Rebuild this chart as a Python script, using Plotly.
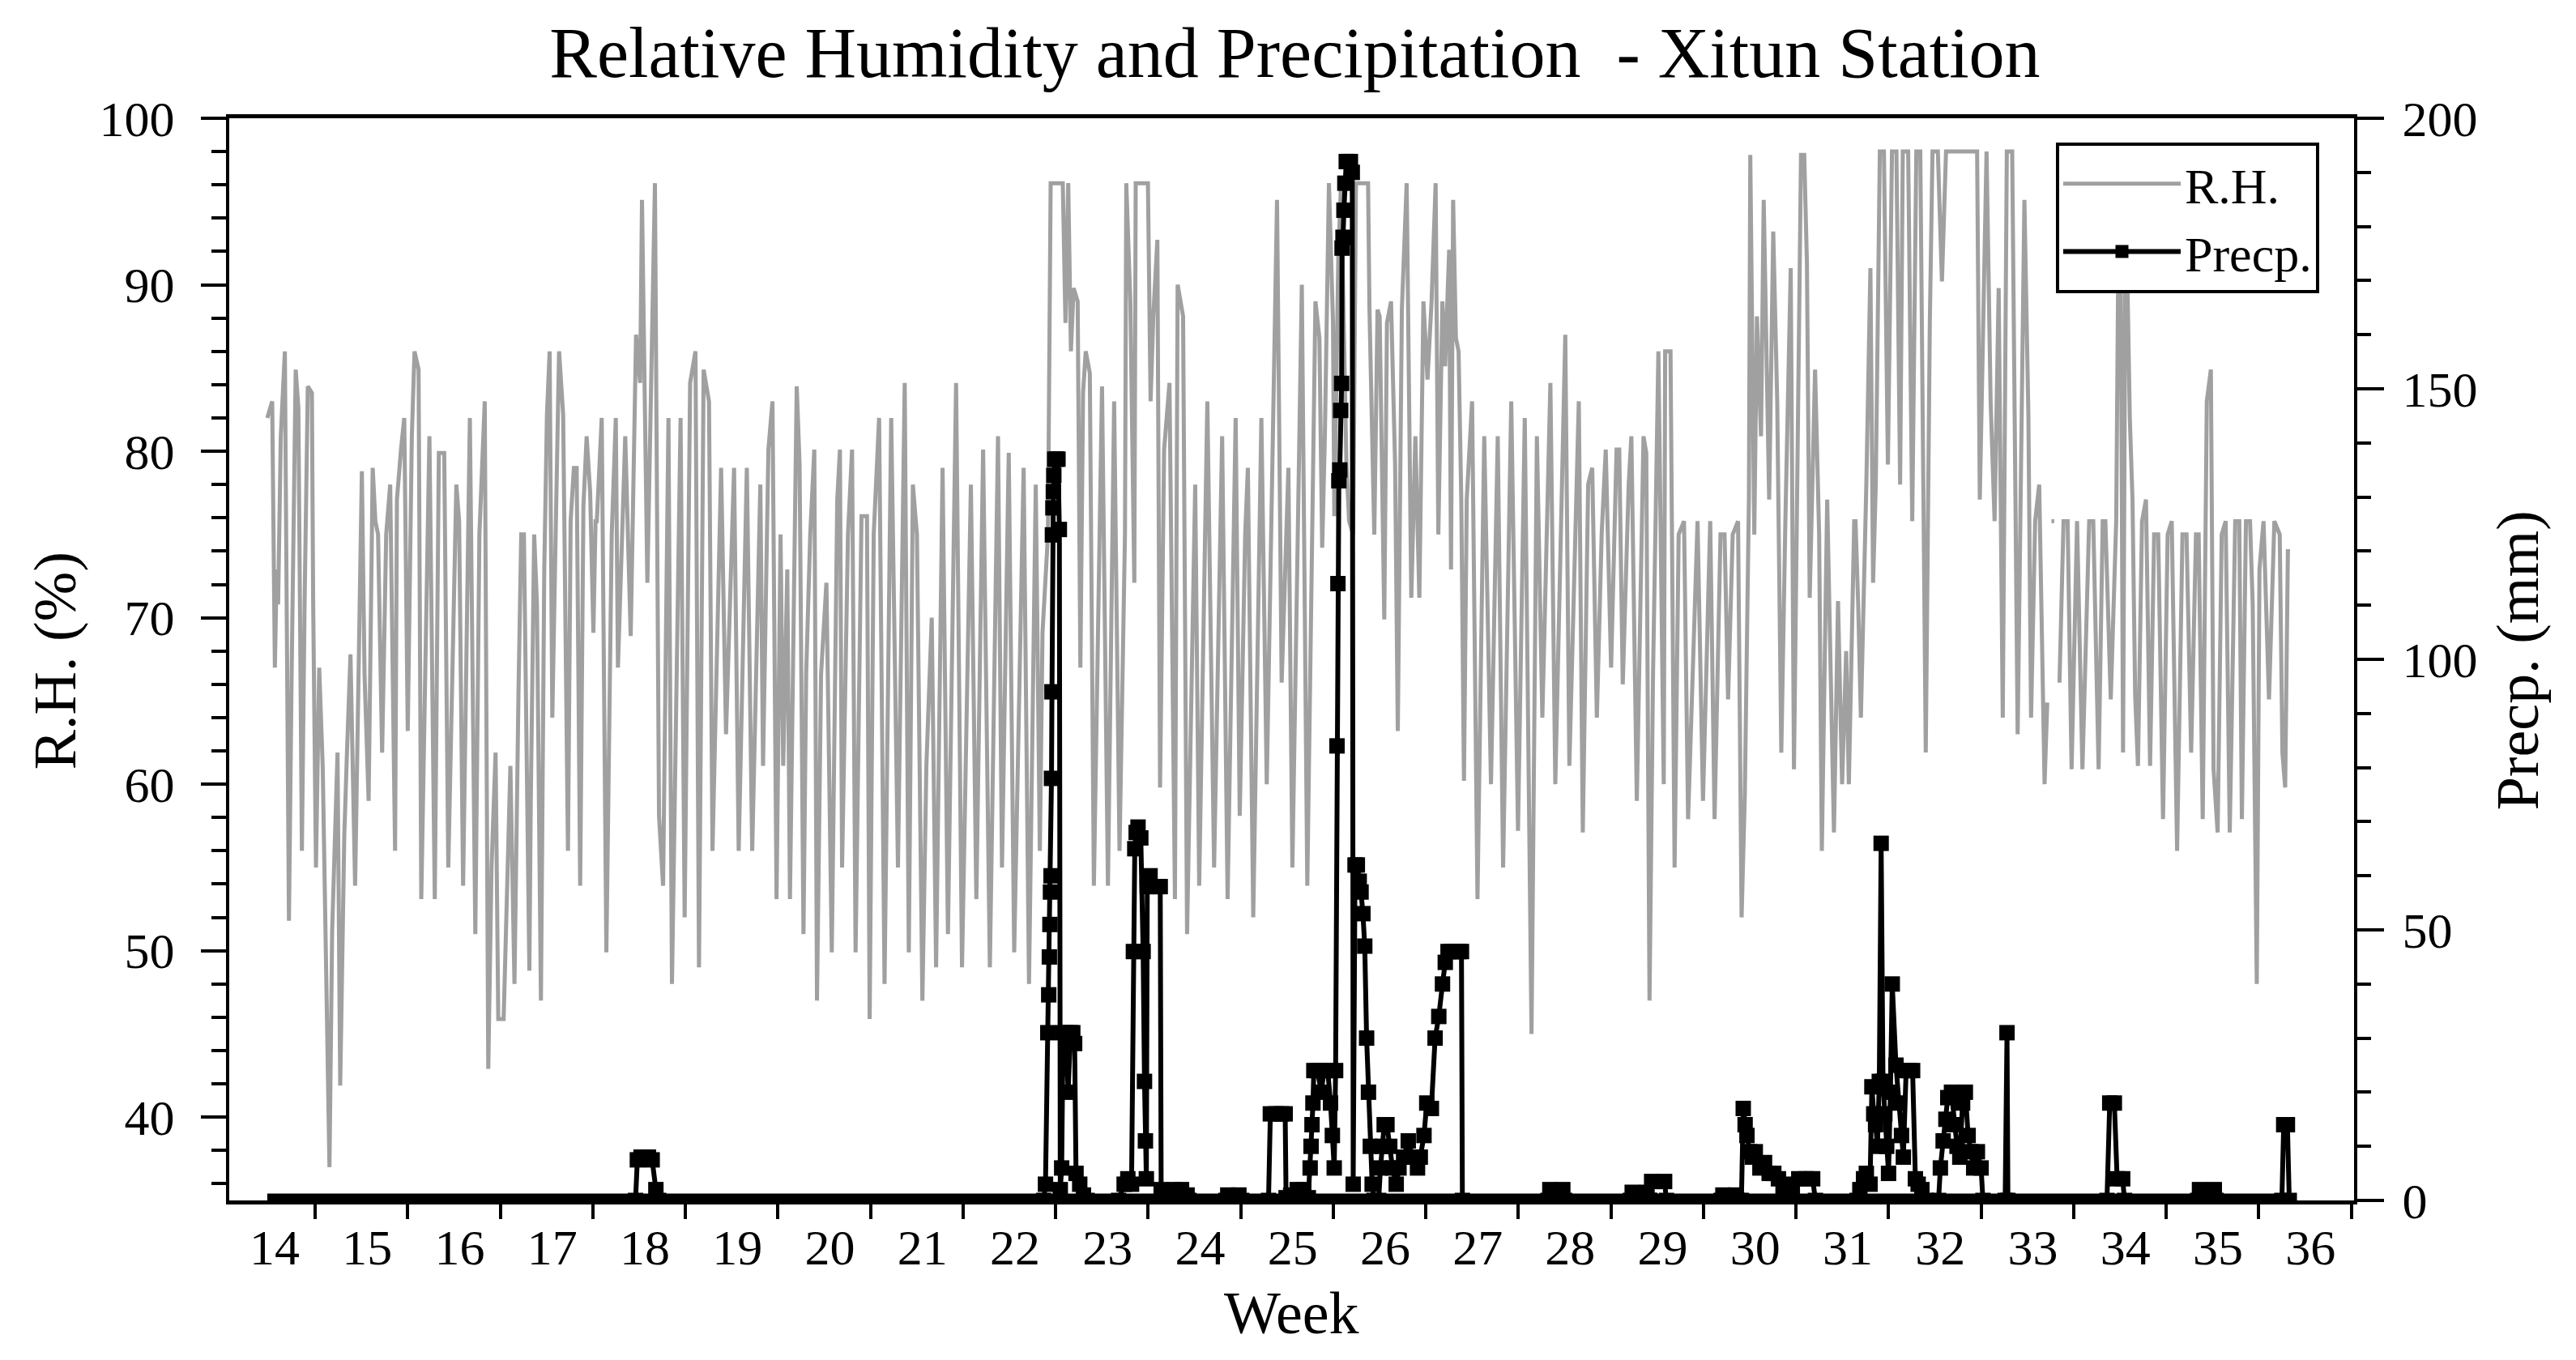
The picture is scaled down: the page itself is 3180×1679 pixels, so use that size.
import plotly.graph_objects as go

# ---------------- data (x in week units; week label n is centred at x = n) ----------------
rh_week = [
 13.921,13.974,14.003,14.023,14.038,14.067,14.111,14.155,14.184,14.228,14.257,14.295,14.324,14.359,14.403,14.417,
 14.447,14.482,14.520,14.549,14.593,14.622,14.680,14.709,14.753,14.782,14.820,14.870,14.914,14.943,14.972,15.016,
 15.060,15.089,15.118,15.162,15.206,15.249,15.302,15.322,15.366,15.401,15.439,15.483,15.512,15.556,15.585,15.673,
 15.731,15.775,15.833,15.877,15.964,15.994,16.037,16.110,16.169,16.213,16.271,16.309,16.344,16.388,16.417,16.475,
 16.548,16.592,16.636,16.665,16.694,16.753,16.768,16.805,16.835,16.878,16.914,16.943,16.972,17.001,17.030,17.074,
 17.118,17.170,17.199,17.234,17.264,17.302,17.337,17.372,17.410,17.445,17.468,17.482,17.535,17.585,17.643,17.687,
 17.710,17.789,17.848,17.906,17.950,17.970,18.028,18.081,18.110,18.154,18.198,18.256,18.294,18.387,18.431,18.490,
 18.548,18.586,18.636,18.694,18.732,18.825,18.878,18.965,19.015,19.103,19.161,19.249,19.278,19.336,19.380,19.424,
 19.467,19.496,19.540,19.569,19.642,19.673,19.715,19.744,19.788,19.832,19.861,19.905,19.963,20.021,20.080,20.109,
 20.132,20.196,20.240,20.278,20.342,20.401,20.430,20.474,20.532,20.591,20.663,20.736,20.809,20.853,20.897,20.941,
 21.000,21.043,21.101,21.148,21.218,21.276,21.364,21.428,21.524,21.583,21.656,21.729,21.817,21.860,21.933,21.992,
 22.094,22.152,22.225,22.269,22.298,22.357,22.386,22.430,22.517,22.546,22.576,22.605,22.634,22.678,22.707,22.736,
 22.765,22.809,22.853,22.941,23.005,23.072,23.130,23.189,23.203,23.247,23.290,23.305,23.364,23.437,23.466,23.495,
 23.539,23.568,23.612,23.670,23.729,23.758,23.817,23.860,23.948,23.991,24.079,24.152,24.239,24.298,24.385,24.429,
 24.488,24.517,24.575,24.663,24.721,24.780,24.832,24.882,24.955,24.998,25.100,25.159,25.203,25.247,25.290,25.320,
 25.349,25.393,25.437,25.451,25.495,25.524,25.582,25.611,25.655,25.685,25.728,25.816,25.831,25.883,25.918,25.941,
 25.991,26.020,26.064,26.108,26.137,26.181,26.233,26.283,26.327,26.370,26.414,26.458,26.502,26.546,26.575,26.619,
 26.648,26.692,26.712,26.735,26.765,26.794,26.823,26.852,26.882,26.940,26.998,27.071,27.144,27.217,27.275,27.363,
 27.436,27.509,27.582,27.640,27.699,27.786,27.839,27.947,27.991,28.093,28.136,28.194,28.238,28.288,28.340,28.384,
 28.442,28.501,28.530,28.568,28.632,28.661,28.720,28.792,28.822,28.857,28.895,28.953,29.011,29.026,29.084,29.128,
 29.172,29.230,29.274,29.376,29.435,29.513,29.560,29.624,29.668,29.706,29.756,29.814,29.852,29.887,29.931,29.946,
 29.989,30.018,30.062,30.091,30.150,30.194,30.237,30.281,30.325,30.383,30.418,30.456,30.494,30.529,30.558,30.588,
 30.646,30.690,30.719,30.777,30.850,30.894,30.938,30.982,31.011,31.069,31.083,31.112,31.141,31.200,31.244,31.273,
 31.302,31.346,31.390,31.433,31.477,31.525,31.565,31.594,31.652,31.696,31.740,31.783,31.842,31.886,31.915,31.973,
 32.017,32.061,32.105,32.397,32.426,32.499,32.543,32.586,32.630,32.674,32.718,32.776,32.835,32.908,32.951,32.980,
 33.024,33.068,33.126,33.155,None,33.200,33.230,None,33.287,33.331,33.375,33.418,33.477,33.535,33.608,33.652,
 33.710,33.754,33.783,33.841,33.900,33.929,33.945,33.974,34.003,34.047,34.076,34.105,34.135,34.179,34.222,34.266,
 34.310,34.354,34.406,34.456,34.500,34.558,34.616,34.660,34.710,34.762,34.791,34.835,34.879,34.923,34.952,34.996,
 35.040,35.083,35.127,35.186,35.230,35.258,35.302,35.346,35.375,35.419,35.448,35.492,35.551,35.609,35.667,35.696,
 35.726,35.755,35.778,
]
rh_value = [
 82.0,83.0,67.0,72.9,70.8,80.9,86.0,51.8,66.6,84.9,82.6,56.0,70.8,83.9,83.5,70.8,
 55.0,67.0,61.1,51.2,37.0,51.2,61.9,41.9,56.9,61.9,67.8,53.9,68.9,78.8,66.6,59.0,
 79.0,75.8,75.0,61.9,75.0,78.0,56.0,77.1,80.1,82.0,63.2,80.9,86.0,84.9,53.1,80.9,
 53.1,79.9,79.9,55.0,78.0,75.8,53.9,82.0,51.0,75.0,83.0,42.9,55.0,61.9,45.9,45.9,
 61.1,48.0,65.7,75.0,75.0,48.8,58.9,75.0,70.8,47.0,72.9,82.2,86.0,64.0,72.9,86.0,
 82.2,56.0,75.8,79.0,79.0,53.9,76.7,80.9,77.5,69.1,75.8,75.8,82.0,49.9,75.0,82.0,
 67.0,80.9,68.9,87.0,84.1,95.1,72.1,88.1,96.1,58.1,53.9,82.0,48.0,82.0,52.0,84.1,
 86.0,49.0,84.9,83.0,56.0,79.0,63.0,79.0,56.0,79.0,56.0,78.0,61.1,80.1,83.0,53.1,
 75.0,61.1,72.9,53.1,83.9,79.2,51.0,66.6,75.0,80.1,47.0,66.6,72.1,49.9,77.1,80.1,
 55.0,75.0,80.1,49.9,76.1,76.1,45.9,75.0,82.0,48.0,82.0,55.0,84.1,49.9,78.0,75.0,
 47.0,61.1,70.0,49.0,79.0,51.0,84.1,49.0,78.0,53.1,80.1,49.0,80.9,55.0,79.9,49.9,
 79.0,48.0,78.0,56.0,69.1,75.0,96.1,96.1,96.1,87.7,96.1,86.0,89.8,89.0,67.0,83.5,
 86.0,84.7,53.9,83.9,53.9,83.0,56.0,75.0,96.1,89.0,72.1,96.1,96.1,96.1,83.0,88.1,
 92.7,59.8,80.1,84.1,53.1,90.0,88.1,51.0,78.0,53.9,83.0,55.0,80.9,53.1,82.0,58.1,
 75.0,79.0,52.0,82.0,60.0,80.1,95.1,66.1,79.0,55.0,90.0,53.9,70.8,89.0,86.8,74.2,
 80.9,96.1,87.7,76.1,91.9,96.1,79.2,75.8,75.0,96.1,96.1,96.1,88.5,75.0,88.5,88.1,
 69.9,87.7,89.0,79.2,63.2,88.5,96.1,71.2,80.9,71.2,89.0,84.3,89.0,96.1,75.0,89.0,
 85.1,92.1,72.9,95.1,86.8,86.0,77.1,60.2,77.1,83.0,53.1,80.9,60.0,80.9,55.0,83.0,
 57.2,82.0,45.0,80.9,64.0,84.1,60.0,87.0,61.1,83.0,57.1,78.0,79.0,64.0,75.0,80.1,
 67.0,80.1,80.1,66.0,78.0,80.9,59.0,80.9,79.9,47.0,66.6,86.0,60.0,86.0,86.0,55.0,
 75.0,75.8,57.9,75.8,59.0,75.8,57.9,75.0,75.0,65.1,75.0,75.8,52.0,59.4,77.1,97.8,
 75.0,88.1,80.9,95.1,77.1,93.2,83.0,61.9,75.8,91.0,60.9,78.0,97.8,97.8,91.3,71.2,
 84.9,75.0,56.0,77.1,57.1,71.0,60.0,68.0,60.0,75.8,75.8,70.8,64.0,78.0,91.0,72.1,
 78.0,98.0,98.0,79.2,98.0,98.0,78.0,98.0,98.0,75.8,98.0,98.0,61.9,87.7,98.0,98.0,
 90.2,98.0,98.0,98.0,77.1,98.0,83.0,75.8,89.8,64.0,98.0,98.0,63.0,95.1,82.2,64.0,
 75.8,78.0,60.0,64.9,None,75.8,75.8,None,66.1,75.8,75.8,60.9,75.8,60.9,75.8,75.8,
 60.9,75.8,75.8,65.1,75.8,96.0,96.0,61.9,96.0,82.0,77.1,65.3,61.1,75.8,77.1,61.1,
 75.0,75.0,57.9,75.0,75.8,56.0,75.0,75.0,61.9,75.0,75.0,57.9,83.0,84.9,60.9,57.1,
 75.0,75.8,57.1,75.8,75.8,57.9,75.8,75.8,70.8,48.0,72.9,75.8,65.1,75.8,75.0,61.9,
 59.8,74.0,74.0,
]

precp_week = [
 17.90,17.92,17.96,18.00,18.04,18.08,18.12,18.15,
 22.31,22.33,22.355,22.365,22.372,22.378,22.384,22.39,22.395,22.40,22.405,22.41,22.415,22.42,22.43,22.45,22.465,
 22.48,22.49,22.505,22.52,22.55,22.575,22.60,22.625,22.645,22.66,22.70,22.74,22.78,
 23.12,23.18,23.22,23.26,23.28,23.295,23.31,23.33,23.36,23.385,23.40,23.41,23.42,23.43,23.46,23.50,23.54,23.57,23.58,23.60,
 23.70,23.72,23.80,23.86,23.88,
 24.28,24.30,24.42,24.45,
 24.74,24.76,24.82,24.88,24.92,24.93,24.98,25.05,25.12,25.17,25.19,25.20,25.21,25.22,25.23,25.27,25.31,25.34,25.38,
 25.41,25.43,25.45,25.465,25.48,25.49,25.50,25.51,25.52,25.53,25.535,25.545,25.555,25.565,25.58,25.60,25.625,25.645,
 25.655,25.675,25.70,25.72,25.74,25.76,25.78,25.80,25.82,25.84,25.86,25.88,
 25.93,25.95,25.97,25.99,26.02,26.05,26.08,26.12,26.15,26.20,26.25,26.30,26.35,26.38,26.42,26.45,26.50,26.54,26.58,
 26.62,26.65,26.68,26.72,26.76,26.80,26.825,26.835,
 27.76,27.78,27.92,27.94,
 28.65,28.67,28.83,28.85,28.86,28.88,29.02,29.04,
 29.63,29.65,29.79,29.81,
 29.85,29.87,29.89,29.91,29.94,29.97,30.00,30.05,30.10,30.15,30.20,30.25,30.30,30.35,30.40,30.47,30.55,30.62,30.65,
 31.10,31.13,31.17,31.20,31.24,31.26,31.28,31.30,31.32,31.34,31.36,31.38,31.40,31.42,31.44,31.46,31.48,31.52,31.55,
 31.58,31.60,31.63,31.66,31.70,31.73,31.76,31.80,31.85,
 31.98,32.00,32.03,32.06,32.08,32.12,32.15,32.18,32.21,32.24,32.27,32.30,32.33,32.36,32.40,32.44,32.46,
 32.70,32.72,32.73,
 33.80,33.83,33.88,33.91,33.97,33.99,
 34.78,34.80,34.96,34.98,
 35.69,35.71,35.75,35.77,
]
precp_mm = [
 0,7.5,8,8,8,7.5,2,0,
 0,3,31,38,45,51,57,60,78,94,123,128,131,134,137,137,137,
 124,2,6,31,31,20,31,31,29,5,3,1,0,
 0,3,4,3,46,65,68,69,67,46,22,11,4,58,60,58,58,58,2,0,
 0,2,2,1,0,
 0,1,1,0,
 0,16,16,16,16,0.5,1,2,2,0.5,6,10,14,18,24,24,20,24,24,
 18,12,6,24,84,114,133,135,146,151,176,178,183,188,192,192,192,190,
 3,62,62,59,57,53,47,30,20,10,3,0,
 0,6,10,14,14,10,6,3,6,8,11,8,6,8,12,18,17,30,34,
 40,44,46,46,46,46,46,0,
 0,2,2,0,
 0,1.5,1.5,0,0,3.5,3.5,0,
 0,1,1,0,
 0,17,14,12,9,8,9,6,7,5,5,4,2,3,2,4,4,4,0,
 0,2,4,5,3,21,16,14,10,22,66,22,16,10,5,20,40,25,18,
 12,8,24,24,24,4,3,2,0,
 0,6,11,15,19,20,14,10,8,18,20,12,9,6,9,6,0,
 0,31,0,
 0,18,18,4,4,0,
 0,2,2,0,
 0,14,14,0,
]

week_labels = list(range(14, 37))
week_boundaries = [w + 0.44 for w in range(14, 37)]

FONT = "Liberation Serif, Times New Roman, serif"

fig = go.Figure()

fig.add_trace(go.Scatter(
    x=rh_week, y=rh_value, name="R.H.", mode="lines",
    line=dict(color="#A0A0A0", width=5), connectgaps=False, yaxis="y"))

# zero readings of the precipitation record over the whole observation period
fig.add_trace(go.Scatter(
    x=[rh_week[0], rh_week[-1]], y=[0, 0], mode="lines",
    line=dict(color="black", width=17), showlegend=False, hoverinfo="skip", yaxis="y2"))

fig.add_trace(go.Scatter(
    x=precp_week, y=precp_mm, name="Precp.", mode="lines+markers",
    line=dict(color="black", width=6),
    marker=dict(symbol="square", size=19, color="black"), yaxis="y2"))

fig.update_layout(
    width=3180, height=1679, autosize=False,
    margin=dict(l=283, r=274, t=146, b=197, pad=0),
    paper_bgcolor="white", plot_bgcolor="white",
    font=dict(family=FONT, size=60, color="black"),
    title=dict(text="Relative Humidity and Precipitation  - Xitun Station",
               x=0.5015, xref="paper", xanchor="center",
               y=1 - 64 / 1679, yref="container", yanchor="middle",
               font=dict(family=FONT, size=88, color="black")),
    xaxis=dict(range=[13.51, 36.47], tickmode="array", tickvals=week_labels,
               ticktext=[str(w) for w in week_labels], ticks="",
               ticklabelstandoff=0, automargin=False,
               minor=dict(tickmode="array", tickvals=week_boundaries, ticks="outside",
                          ticklen=18, tickwidth=4, tickcolor="black"),
               showline=True, linewidth=5, linecolor="black", mirror=True,
               showgrid=False, zeroline=False,
               tickfont=dict(family=FONT, size=62)),
    yaxis=dict(range=[35, 100], tick0=0, dtick=10, ticks="outside", ticklen=31, tickwidth=4,
               tickcolor="black", ticklabelstandoff=20, automargin=False,
               minor=dict(dtick=2, ticks="outside", ticklen=18, tickwidth=4, tickcolor="black"),
               showline=True, linewidth=4, linecolor="black",
               showgrid=False, zeroline=False, tickfont=dict(family=FONT, size=62)),
    yaxis2=dict(range=[0, 200], tick0=0, dtick=50, overlaying="y", side="right",
                ticks="outside", ticklen=33, tickwidth=4, tickcolor="black", ticklabelstandoff=10,
                automargin=False,
                minor=dict(dtick=10, ticks="outside", ticklen=17, tickwidth=4, tickcolor="black"),
                showline=True, linewidth=4, linecolor="black",
                showgrid=False, zeroline=False, tickfont=dict(family=FONT, size=62)),
    legend=dict(x=0.8597, y=0.9775, xanchor="left", yanchor="top",
                bgcolor="white", bordercolor="black", borderwidth=4,
                font=dict(family=FONT, size=62), itemwidth=145,
                tracegroupgap=0),
    showlegend=True,
    annotations=[
        dict(text="Week", x=0.5, y=-0.104, xref="paper", yref="paper",
             xanchor="center", yanchor="middle", showarrow=False,
             font=dict(family=FONT, size=74)),
        dict(text="R.H. (%)", x=-0.082, y=0.499, xref="paper", yref="paper",
             xanchor="center", yanchor="middle", showarrow=False, textangle=-90,
             font=dict(family=FONT, size=74)),
        dict(text="Precp. (mm)", x=1.077, y=0.499, xref="paper", yref="paper",
             xanchor="center", yanchor="middle", showarrow=False, textangle=-90,
             font=dict(family=FONT, size=74)),
    ],
)

fig.write_html("out.html", config={"displayModeBar": False},
               post_script="document.body.style.margin='0';document.body.style.overflow='hidden';")
